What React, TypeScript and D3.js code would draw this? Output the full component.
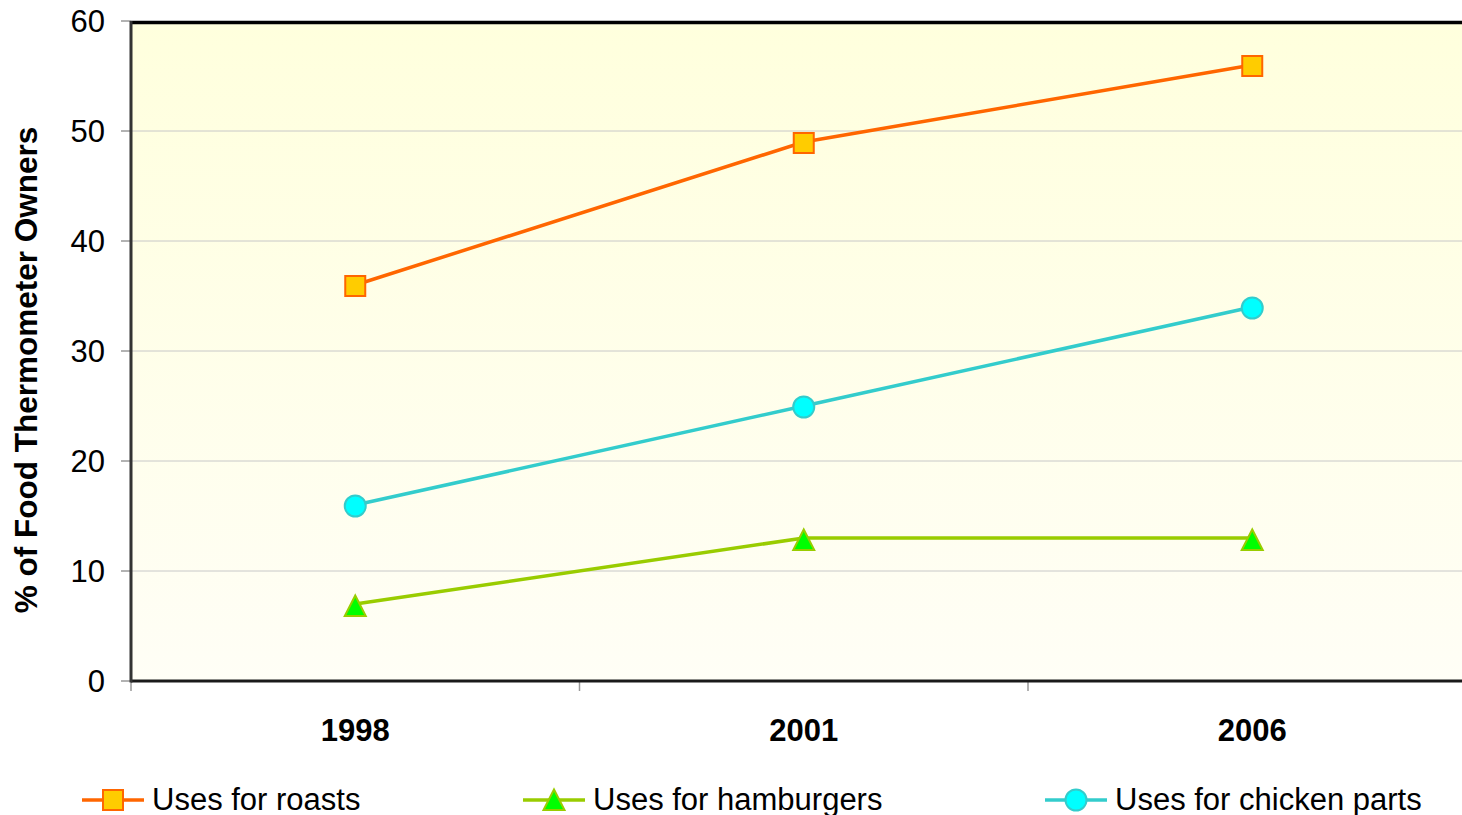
import React from "react";
import * as d3 from "d3";

const years = ["1998", "2001", "2006"];
const roasts = [36, 49, 56];
const hamburgers = [7, 13, 13];
const chickenParts = [16, 25, 34];
const yTicks = [0, 10, 20, 30, 40, 50, 60];

const W = 1462;
const H = 815;
const left = 131;
const top = 21;
const bottom = 681;
const band = 448.5;

const FONT = "'Liberation Sans', Arial, sans-serif";

type Series = { name: string; values: number[]; line: string; fill: string; marker: "square" | "triangle" | "circle" };

const series: Series[] = [
  { name: "Uses for roasts", values: roasts, line: "#FF6600", fill: "#FFCC00", marker: "square" },
  { name: "Uses for hamburgers", values: hamburgers, line: "#99CC00", fill: "#00FF00", marker: "triangle" },
  { name: "Uses for chicken parts", values: chickenParts, line: "#33CCCC", fill: "#00FFFF", marker: "circle" },
];

function Marker({ kind, x, y, fill, stroke }: { kind: string; x: number; y: number; fill: string; stroke: string }) {
  if (kind === "square") {
    return <rect x={x - 10} y={y - 10} width={20} height={20} fill={fill} stroke={stroke} strokeWidth={2} />;
  }
  if (kind === "circle") {
    return <circle cx={x} cy={y} r={10.5} fill={fill} stroke={stroke} strokeWidth={2} />;
  }
  const p = `M${x},${y - 9.5}L${x + 10.5},${y + 11}L${x - 10.5},${y + 11}Z`;
  return <path d={p} fill={fill} stroke={stroke} strokeWidth={2} strokeLinejoin="miter" />;
}

export default function App() {
  const x = d3.scaleBand<string>().domain(years).range([left, left + band * years.length]).padding(0);
  const y = d3.scaleLinear().domain([0, 60]).range([bottom, top]);
  const cx = (c: string) => (x(c) as number) + x.bandwidth() / 2;
  const lineGen = d3
    .line<number>()
    .x((_, i) => cx(years[i]))
    .y((d) => y(d));

  const legendPos = [82, 523, 1045];

  return (
    <svg
      width={W}
      height={H}
      style={{ position: "absolute", left: 0, top: 0, display: "block", background: "#fff" }}
      fontFamily={FONT}
    >
      <defs>
        <linearGradient id="bg" x1="0" y1="0" x2="0" y2="1">
          <stop offset="0" stopColor="#FFFFDD" />
          <stop offset="1" stopColor="#FFFEF6" />
        </linearGradient>
      </defs>
      <rect x={left} y={top} width={W - left + 20} height={bottom - top} fill="url(#bg)" />
      {yTicks.slice(1, -1).map((t) => (
        <line key={t} x1={left} x2={W} y1={y(t)} y2={y(t)} stroke="#C8C8C8" strokeWidth={1} />
      ))}
      {yTicks.map((t) => (
        <g key={"yt" + t}>
          <line x1={left - 10} x2={left} y1={y(t)} y2={y(t)} stroke="#999" strokeWidth={1.5} />
          <text x={105} y={y(t)} dy="0.36em" textAnchor="end" fontSize={31} fill="#000">
            {t}
          </text>
        </g>
      ))}
      {[0, 1, 2, 3].map((i) => (
        <line key={"xt" + i} x1={left + band * i} x2={left + band * i} y1={bottom} y2={bottom + 10} stroke="#999" strokeWidth={1.5} />
      ))}
      {/* frame */}
      <line x1={left} x2={W} y1={top + 1.5} y2={top + 1.5} stroke="#000" strokeWidth={3.5} />
      <line x1={left} x2={W} y1={bottom} y2={bottom} stroke="#1a1a1a" strokeWidth={3} />
      <line x1={left} x2={left} y1={top} y2={bottom + 1.5} stroke="#333" strokeWidth={3} />

      {series.map((s) => (
        <g key={s.name}>
          <path d={lineGen(s.values) || ""} fill="none" stroke={s.line} strokeWidth={3.5} />
          {s.values.map((v, i) => (
            <Marker key={i} kind={s.marker} x={cx(years[i])} y={y(v) + 1} fill={s.fill} stroke={s.line} />
          ))}
        </g>
      ))}

      {years.map((c) => (
        <text key={c} x={cx(c)} y={741} textAnchor="middle" fontSize={31} fontWeight="bold" fill="#000">
          {c}
        </text>
      ))}

      <text
        transform={`translate(37,370) rotate(-90)`}
        textAnchor="middle"
        fontSize={31.5}
        fontWeight="bold"
        fill="#000"
      >
        % of Food Thermometer Owners
      </text>

      {series.map((s, i) => {
        const lx = legendPos[i];
        return (
          <g key={"lg" + s.name}>
            <line x1={lx} x2={lx + 62} y1={800} y2={800} stroke={s.line} strokeWidth={3.5} />
            <Marker kind={s.marker} x={lx + 31} y={s.marker === "triangle" ? 799 : 800} fill={s.fill} stroke={s.line} />
            <text x={lx + 70} y={810} fontSize={31} fill="#000">
              {s.name}
            </text>
          </g>
        );
      })}
    </svg>
  );
}
